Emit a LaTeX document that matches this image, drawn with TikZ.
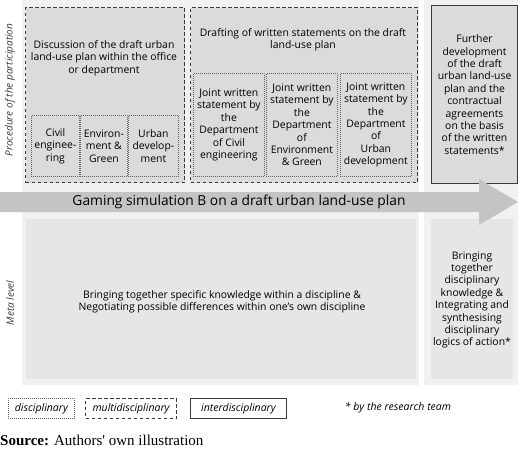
\documentclass[tikz,border=0pt]{standalone}
\usepackage{fontspec}
\setmainfont{Open Sans}
\newfontfamily\srcfont{Liberation Serif}
\definecolor{panelgray}{HTML}{F1F1F1}
\definecolor{boxgray}{HTML}{DBDBDB}
\definecolor{lowgray}{HTML}{E7E6E7}
\definecolor{arrowgray}{HTML}{C4C4C2}
\definecolor{linegray}{HTML}{3A3A3A}
\begin{document}
\begin{tikzpicture}[x=1pt, y=-1pt, font=\fontsize{10.4}{12.4}\selectfont,
    txt/.style={align=center, inner sep=0pt},
    legtxt/.style={txt, font=\fontsize{10.5}{12}\itshape},
    multibox/.style={draw=linegray, fill=boxgray, line width=1.1pt, dash pattern=on 3.5pt off 2.5pt, anchor=north west, inner sep=0pt},
    discbox/.style={draw=linegray!80, line width=0.8pt, dash pattern=on 0.8pt off 1.2pt, anchor=north west, inner sep=0pt},
    interbox/.style={draw=linegray, line width=1.1pt, anchor=north west, inner sep=0pt},
    sidelabel/.style={rotate=90, font=\fontsize{10}{12}\itshape, text=linegray}]
    \useasboundingbox (0,0) rectangle (520,448);

    % background panels
    \fill[panelgray] (22,0) rectangle (419,385);
    \fill[panelgray] (424,0) rectangle (518,385);
    \fill[lowgray] (26,219) rectangle (416,379);
    \fill[lowgray] (431,219) rectangle (513,379);

    % discussion within the office
    \node[multibox, minimum width=159pt, minimum height=175pt] (disc) at (25,7) {};
    \node[txt] (disctxt) at (104,58) {Discussion of the draft urban\\land-use plan within the office\\or department};
    \node[discbox, fill=boxgray, minimum width=48pt, minimum height=61pt] (civ) at (31,115) {};
    \node[discbox, fill=boxgray, minimum width=47pt, minimum height=61pt] (env) at (80,115) {};
    \node[discbox, fill=boxgray, minimum width=50pt, minimum height=61pt] (urb) at (128,115) {};
    \node[txt] at (civ.center) {Civil\\enginee-\\ring};
    \node[txt] at (env.center) {Environ-\\ment \&\\Green};
    \node[txt] at (urb.center) {Urban\\develop-\\ment};

    % drafting of written statements
    \node[multibox, minimum width=227pt, minimum height=175pt] (draft) at (190,7) {};
    \node[txt] (drafttxt) at (303,40) {Drafting of written statements on the draft\\land-use plan};
    \node[discbox, fill=boxgray, minimum width=71pt, minimum height=103pt] (jciv) at (193,73) {};
    \node[discbox, fill=boxgray, minimum width=71pt, minimum height=103pt] (jenv) at (266,73) {};
    \node[discbox, fill=boxgray, minimum width=71pt, minimum height=103pt] (jurb) at (340,73) {};
    \node[txt] at (jciv.center) {Joint written\\statement by\\the\\Department\\of Civil\\engineering};
    \node[txt] at (jenv.center) {Joint written\\statement by\\the\\Department\\of\\Environment\\\& Green};
    \node[txt] at (jurb.center) {Joint written\\statement by\\the\\Department\\of\\Urban\\development};

    % further development
    \node[interbox, fill=boxgray, minimum width=86pt, minimum height=178pt] (further) at (431,5) {};
    \node[txt] at (further.center) {Further\\development\\of the draft\\urban land-use\\plan and the\\contractual\\agreements\\on the basis\\of the written\\statements*};

    % gaming simulation arrow
    \fill[arrowgray] (0,192) -- (479,192) -- (479,179) -- (518,202) -- (479,225) -- (479,212) -- (0,212) -- cycle;
    \node[txt, font=\fontsize{13.8}{16}\selectfont] (game) at (239,202) {Gaming simulation B on a draft urban land-use plan};

    % meta level
    \node[txt] (metaleft) at (222,302) {Bringing together specific knowledge within a discipline \&\\Negotiating possible differences within one's own discipline};
    \node[txt] (metaright) at (472,300) {Bringing\\together\\disciplinary\\knowledge \&\\Integrating and\\synthesising\\disciplinary\\logics of action*};

    % side labels
    \node[sidelabel] (proc) at (10,90) {Procedure of the participation};
    \node[sidelabel] (meta) at (10,303) {Meta level};

    % legend
    \node[discbox, fill=white, minimum width=66pt, minimum height=20pt] (ldisc) at (8,398) {};
    \node[legtxt] at (ldisc.center) {disciplinary};
    \node[multibox, fill=white, minimum width=91pt, minimum height=20pt] (lmulti) at (85,398) {};
    \node[legtxt] at (lmulti.center) {multidisciplinary};
    \node[interbox, fill=white, line width=0.9pt, minimum width=96pt, minimum height=20pt] (linter) at (190,398) {};
    \node[legtxt] at (linter.center) {interdisciplinary};
    \node[legtxt] (research) at (398,408) {* by the research team};

    % source
    \node[txt, anchor=west, font=\srcfont\fontsize{15}{17}\selectfont] (source) at (0,440) {\textbf{Source:} Authors' own illustration};
\end{tikzpicture}
\end{document}
